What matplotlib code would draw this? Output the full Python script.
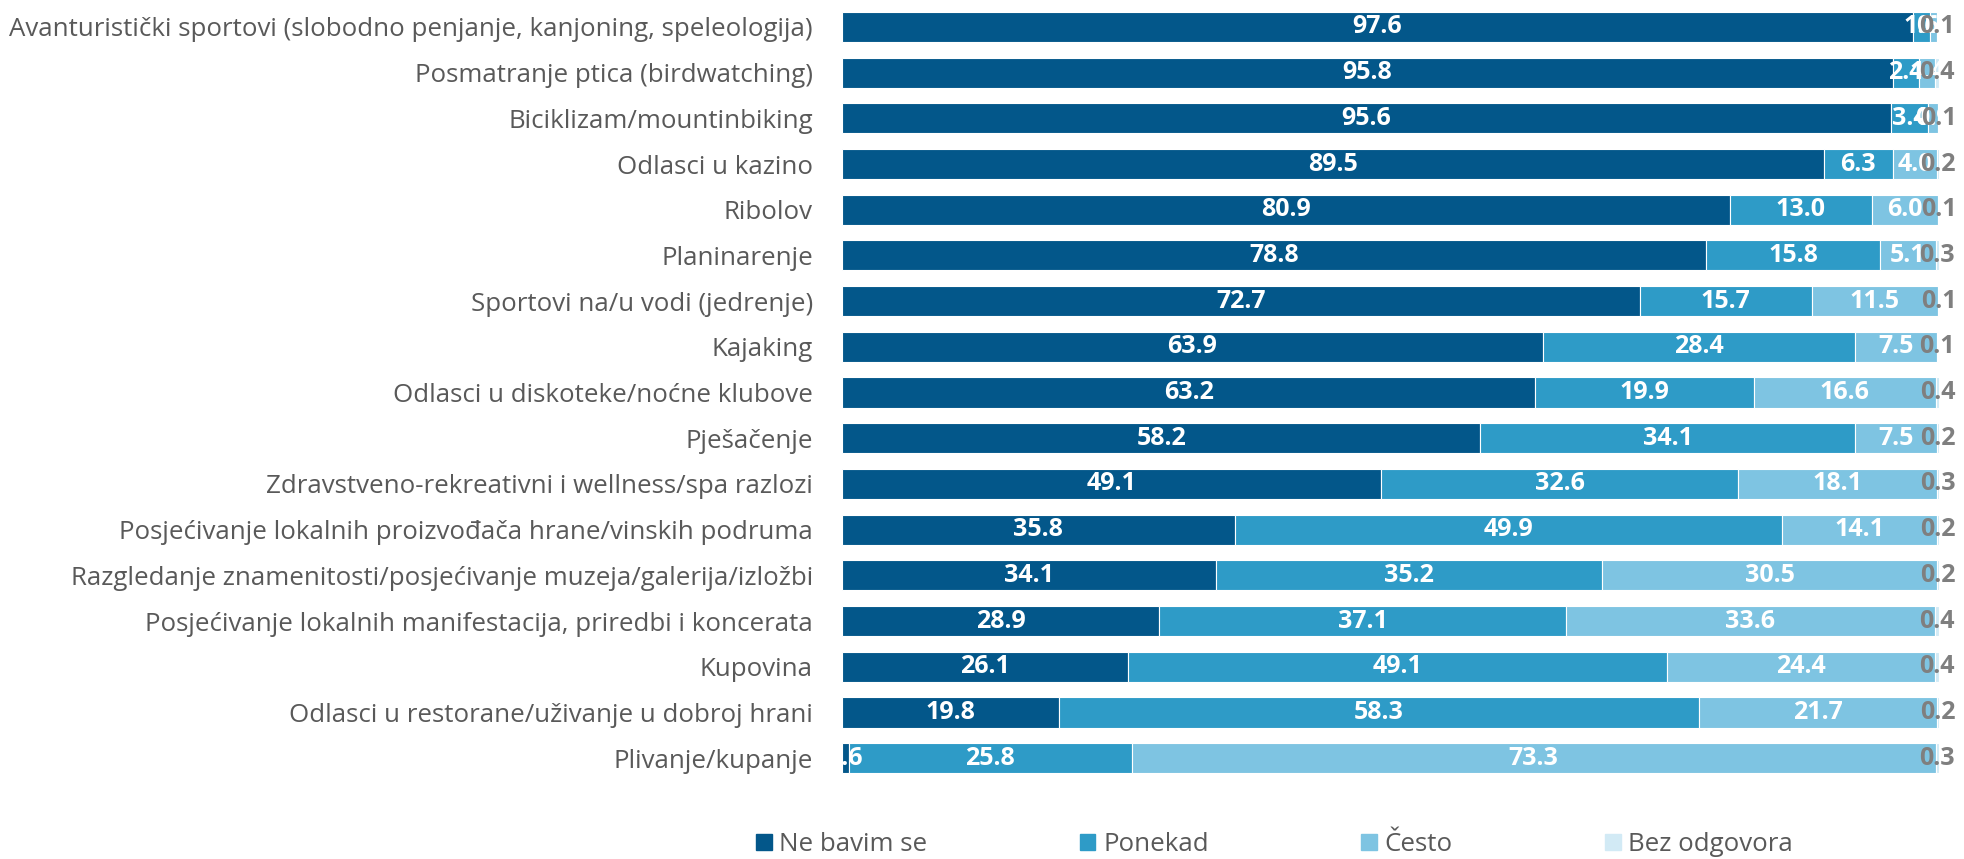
import matplotlib.pyplot as plt
from matplotlib.patches import Patch

# categories (top to bottom) and shares in %
kategorije = [
    'Avanturistički sportovi (slobodno penjanje, kanjoning, speleologija)',
    'Posmatranje ptica (birdwatching)',
    'Biciklizam/mountinbiking',
    'Odlasci u kazino',
    'Ribolov',
    'Planinarenje',
    'Sportovi na/u vodi (jedrenje)',
    'Kajaking',
    'Odlasci u diskoteke/noćne klubove',
    'Pješačenje',
    'Zdravstveno-rekreativni i wellness/spa razlozi',
    'Posjećivanje lokalnih proizvođača hrane/vinskih podruma',
    'Razgledanje znamenitosti/posjećivanje muzeja/galerija/izložbi',
    'Posjećivanje lokalnih manifestacija, priredbi i koncerata',
    'Kupovina',
    'Odlasci u restorane/uživanje u dobroj hrani',
    'Plivanje/kupanje',
]
ne_bavim_se = [97.6, 95.8, 95.6, 89.5, 80.9, 78.8, 72.7, 63.9, 63.2, 58.2, 49.1, 35.8, 34.1, 28.9, 26.1, 19.8, 0.6]
ponekad = [1.6, 2.4, 3.4, 6.3, 13.0, 15.8, 15.7, 28.4, 19.9, 34.1, 32.6, 49.9, 35.2, 37.1, 49.1, 58.3, 25.8]
cesto = [0.6, 1.4, 0.9, 4.0, 6.0, 5.1, 11.5, 7.5, 16.6, 7.5, 18.1, 14.1, 30.5, 33.6, 24.4, 21.7, 73.3]
bez_odgovora = [0.1, 0.4, 0.1, 0.2, 0.1, 0.3, 0.1, 0.1, 0.4, 0.2, 0.3, 0.2, 0.2, 0.4, 0.4, 0.2, 0.3]

serije = ['Ne bavim se', 'Ponekad', 'Često', 'Bez odgovora']
boje = ['#03578a', '#2e9bc7', '#7ec4e2', '#d2eaf5']
boje_teksta = ['white', 'white', 'white', '#7f7f7f']

plt.rcParams['font.family'] = ['Open Sans', 'DejaVu Sans']

fig = plt.figure(figsize=(19.64, 8.59), dpi=100)
ax = fig.add_axes([0.4287, 0.0908, 0.5586, 0.9045])

y = list(range(len(kategorije)))
lijevo = [0.0] * len(kategorije)
for vrijednosti, boja, tboja in zip([ne_bavim_se, ponekad, cesto, bez_odgovora], boje, boje_teksta):
    bars = ax.barh(y, vrijednosti, left=lijevo, height=0.66, color=boja,
                   edgecolor='white', linewidth=0.8)
    ax.bar_label(bars, labels=[f'{v:.1f}' for v in vrijednosti], label_type='center',
                 color=tboja, fontsize=18, fontweight='bold')
    lijevo = [a + b for a, b in zip(lijevo, vrijednosti)]

ax.set_xlim(0, 100)
ax.set_ylim(16.5, -0.5)
ax.set_yticks(y)
ax.set_yticklabels(kategorije, fontsize=18.6, color='#595959')
ax.tick_params(axis='y', length=0, pad=21)
ax.set_xticks([])
for s in ax.spines.values():
    s.set_visible(False)

handles = [Patch(color=c, label=l) for c, l in zip(boje, serije)]
fig.legend(handles=handles, loc='center', bbox_to_anchor=(0.649, 0.017), ncol=4,
           frameon=False, fontsize=18.6, labelcolor='#595959', handlelength=0.6,
           handleheight=0.6, handletextpad=0.3, columnspacing=5.9)

fig.savefig('out.png', dpi=100)
